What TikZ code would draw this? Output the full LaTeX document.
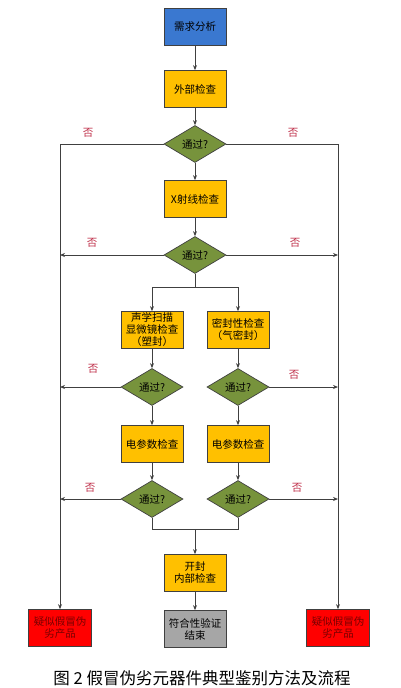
\documentclass[tikz,border=0pt]{standalone}
\usepackage{fontspec}
\setmainfont{Noto Sans CJK SC}
\usetikzlibrary{shapes.geometric,arrows.meta}
\definecolor{boxblue}{HTML}{3A78D0}
\definecolor{boxyellow}{HTML}{FFC000}
\definecolor{diagreen}{HTML}{77933C}
\definecolor{boxgray}{HTML}{A6A6A6}
\definecolor{boxred}{HTML}{FF0000}
\definecolor{notred}{HTML}{C0304A}
\definecolor{linegray}{HTML}{404040}
\definecolor{redtext}{HTML}{7A0000}
\begin{document}
\begin{tikzpicture}[x=1pt,y=-1pt,
  base/.style={draw=black!75,line width=0.7pt,minimum width=62pt,minimum height=37pt,inner sep=1pt,align=center,font=\fontsize{10.5}{12}\selectfont},
  bluebox/.style={base,fill=boxblue},
  ybox/.style={base,fill=boxyellow},
  graybox/.style={base,fill=boxgray},
  redbox/.style={base,fill=boxred,minimum width=63pt,text=redtext},
  dia/.style={diamond,draw=black!75,line width=0.7pt,fill=diagreen,minimum width=62pt,minimum height=37pt,inner sep=0pt,aspect=1.68,font=\fontsize{10.5}{12}\selectfont},
  conn/.style={draw=linegray,line width=0.8pt},
  arr/.style={conn,-{Stealth[length=5pt,width=4pt]}},
  notlbl/.style={text=notred,font=\fontsize{10.5}{12}\selectfont,inner sep=0pt}]
\useasboundingbox (0,0) rectangle (400,688);
\fill[white] (0,0) rectangle (400,688);

% main column
\node[bluebox] (req) at (195,27) {需求分析};
\node[ybox] (ext) at (195,89) {外部检查};
\node[dia] (d1) at (195,144) {通过?};
\node[ybox] (xray) at (195,199) {X射线检查};
\node[dia] (d2) at (195,255) {通过?};

% two branches
\node[ybox] (acou) at (152,330) {声学扫描\\显微镜检查\\（塑封）};
\node[ybox] (seal) at (238,330) {密封性检查\\（气密封）};
\node[dia] (d3L) at (152,387) {通过?};
\node[dia] (d3R) at (238,387) {通过?};
\node[ybox] (elL) at (152,444) {电参数检查};
\node[ybox] (elR) at (238,444) {电参数检查};
\node[dia] (d4L) at (152,499) {通过?};
\node[dia] (d4R) at (238,499) {通过?};

\node[ybox] (open) at (195,573) {开封\\内部检查};
\node[graybox] (done) at (195,629) {符合性验证\\结束};
\node[redbox] (badL) at (60,628) {疑似假冒伪\\劣产品};
\node[redbox] (badR) at (338,628) {疑似假冒伪\\劣产品};

\coordinate (split) at (195,287);
\coordinate (merge) at (195,529);

% connectors main
\draw[arr] (req) -- (ext);
\draw[arr] (ext) -- (d1);
\draw[arr] (d1) -- (xray);
\draw[arr] (xray) -- (d2);
\draw[conn] (d2.south) -- (split);
\draw[arr] (split) -| (acou.north);
\draw[arr] (split) -| (seal.north);
\draw[arr] (acou) -- (d3L);
\draw[arr] (seal) -- (d3R);
\draw[arr] (d3L) -- (elL);
\draw[arr] (d3R) -- (elR);
\draw[arr] (elL) -- (d4L);
\draw[arr] (elR) -- (d4R);
\draw[conn] (d4L.south) |- (merge);
\draw[conn] (d4R.south) |- (merge);
\draw[arr] (merge) -- (open.north);
\draw[arr] (open) -- (done);

% failure lines
\draw[arr] (d1.west) -- (d1.west -| badL) -- (badL.north);
\draw[arr] (d1.east) -- (d1.east -| badR) -- (badR.north);
\draw[arr] (d2.west) -- (d2.west -| badL);
\draw[arr] (d2.east) -- (d2.east -| badR);
\draw[arr] (d3L.west) -- (d3L.west -| badL);
\draw[arr] (d3R.east) -- (d3R.east -| badR);
\draw[arr] (d4L.west) -- (d4L.west -| badL);
\draw[arr] (d4R.east) -- (d4R.east -| badR);

% labels
\node[notlbl] (n1L) at (88,133) {否};
\node[notlbl] (n1R) at (293,133) {否};
\node[notlbl] (n2L) at (92,243) {否};
\node[notlbl] (n2R) at (295,243) {否};
\node[notlbl] (n3L) at (93,369) {否};
\node[notlbl] (n3R) at (294,375) {否};
\node[notlbl] (n4L) at (90,488) {否};
\node[notlbl] (n4R) at (297,488) {否};

% caption
\node[font=\fontsize{16.5}{19}\selectfont,inner sep=0pt] (cap) at (202,678) {图 2 假冒伪劣元器件典型鉴别方法及流程};
\end{tikzpicture}
\end{document}
